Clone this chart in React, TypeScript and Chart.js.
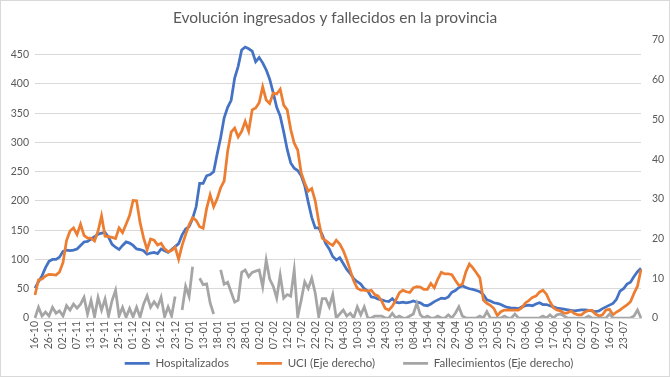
import React, { useEffect, useRef } from "react";
import { Chart, registerables } from "chart.js";

Chart.register(...registerables);

const chartTitle = "Evolución ingresados y fallecidos en la provincia";

const tickLabels = [
  "16-10", "26-10", "02-11", "07-11", "13-11", "19-11", "25-11", "01-12", "09-12", "16-12",
  "23-12", "07-01", "13-01", "18-01", "23-01", "28-01", "02-02", "07-02", "12-02", "17-02",
  "22-02", "27-02", "04-03", "10-03", "16-03", "24-03", "31-03", "08-04", "15-04", "22-04",
  "29-04", "06-05", "13-05", "20-05", "27-05", "03-06", "10-06", "17-06", "25-06", "02-07",
  "09-07", "16-07", "23-07",
];
const pointsPerTick = 4;

const hospitalizados = [
  51, 62, 72, 86, 97, 100, 100, 104, 114, 116,
  115, 116, 118, 124, 130, 131, 135, 139, 143, 145,
  146, 138, 126, 121, 117, 124, 130, 128, 124, 118,
  117, 115, 109, 111, 112, 110, 118, 115, 112, 117,
  122, 127, 142, 152, 156, 170, 190, 230, 230, 243,
  245, 250, 280, 308, 342, 360, 372, 410, 430, 458,
  463, 460, 456, 438, 445, 436, 424, 408, 385, 360,
  345, 318, 288, 265, 256, 252, 243, 226, 198, 172,
  154, 154, 142, 127, 118, 105, 99, 103, 93, 83,
  76, 67, 62, 58, 50, 46, 36, 35, 32, 31,
  29, 28, 33, 27, 26, 27, 26, 27, 29, 27,
  26, 22, 21, 24, 28, 31, 34, 33, 36, 44,
  47, 52, 55, 52, 50, 49, 47, 45, 40, 31,
  29, 26, 25, 23, 20, 18, 17, 17, 16, 19,
  21, 22, 21, 24, 26, 23, 23, 21, 19, 17,
  16, 15, 14, 13, 12, 13, 14, 14, 13, 12,
  11, 12, 16, 19, 22, 25, 32, 46, 50, 58,
  61, 71, 79, 85,
];

const uci = [
  5.8, 9.6, 9.8, 10.6, 11.0, 10.9, 10.8, 11.6, 14.0, 19.5,
  21.9, 22.7, 21.0, 23.6, 20.8, 20.1, 20.1, 19.4, 21.9, 25.7,
  20.6, 20.5, 20.3, 20.0, 22.7, 21.5, 23.6, 25.8, 29.6, 29.5,
  24.0, 20.2, 17.2, 19.9, 19.6, 18.4, 18.8, 17.4, 16.7, 17.0,
  17.8, 14.8, 18.3, 21.0, 23.5, 25.3, 24.6, 23.0, 22.6, 27.6,
  31.0, 28.0, 30.0, 32.8, 34.5, 42.0, 46.8, 47.8, 45.6, 47.0,
  49.5, 47.0, 52.4, 52.9, 54.2, 58.2, 54.9, 54.0, 56.6, 56.4,
  57.6, 53.6, 52.4, 47.5, 44.0, 42.3, 36.5, 34.0, 31.9, 32.6,
  29.5, 24.3, 20.1, 19.5, 18.8, 18.3, 19.6, 18.6, 17.0, 14.7,
  12.0, 9.3, 7.5, 7.0, 7.0, 6.8, 7.0, 5.9, 5.5, 4.2,
  2.4, 2.0, 3.0, 4.5, 6.3, 7.0, 6.6, 6.4, 7.6, 7.9,
  7.8, 7.2, 7.2, 8.7, 7.6, 9.8, 11.5, 11.1, 11.1, 10.9,
  9.5, 8.2, 8.5, 11.6, 13.6, 12.6, 11.4, 10.1, 4.5, 3.7,
  3.2, 2.4, 0.6, 1.6, 2.0, 2.0, 2.0, 2.0, 2.0, 2.6,
  3.8, 4.4, 5.2, 5.5, 6.5, 7.0, 6.0, 4.1, 2.6, 2.0,
  1.8, 1.2, 1.3, 1.8, 1.1, 0.8, 0.8, 1.5, 1.9, 1.9,
  1.0, 0.5, 0.8, 2.0, 2.2, 0.8, 1.5, 2.0, 2.7, 3.3,
  4.1, 6.2, 8.0, 12.2,
];

const fallecimientos = [
  0, 2.7, 0.5, 1.5, 0.5, 2.7, 1.2, 1.8, 0.5, 3.1,
  2.0, 3.5, 2.5, 3.5, 5.2, 1.0, 4.4, 0.3, 5.2, 2.0,
  4.8, 0.5, 4.4, 7.0, 0.5, 2.7, 0.2, 2.4, 0.3, 2.7,
  0.2, 3.5, 5.6, 2.7, 4.1, 2.8, 5.2, 0.3, 2.8, 0.5,
  5.4, null, 2.0, 8.0, 5.4, 12.9, null, 10.0, 8.4, 8.6,
  3.8, 1.0, null, 12.1, 8.5, 9.0, 6.5, 4.0, 4.5, 11.5,
  12.1, 10.4, 11.5, 11.8, 12.1, 7.9, 14.6, 9.8, 8.0, 5.0,
  10.8, 5.0, 5.9, 5.5, 12.1, 0.3, 4.5, 9.1, 7.4, 10.0,
  6.3, 0.3, 4.9, 4.9, 2.8, 5.9, 0, 1.0, 2.0, 0.5,
  1.2, 0, 2.8, 0.8, 2.8, 0, 0, 0.5, 0.5, 0.5,
  0, 0, 1.2, 0, 0.5, 0, 0, 0.5, 1.0, 3.7,
  0.8, 0, 0.5, 0, 0, 0.5, 0, 0, 0.8, 0,
  1.2, 2.8, 0.5, 0, 0, 0, 0, 0.5, 0, 1.6,
  0, 0, 0, 0, 0.5, 0, 0, 1.0, 0, 0,
  0, 0, 0, 0, 0, 0.5, 0, 0.8, 0, 0.8,
  1.0, 0.5, 0, 0, 0, 0, 0, 0, 0.5, 0,
  0, 0, 0, 0, 1.0, 0, 0, 0, 0, 0,
  0, 0.5, 2.0, 0,
];

const categories = hospitalizados.map((_, i) =>
  i % pointsPerTick === 0 ? tickLabels[i / pointsPerTick] ?? "" : ""
);

const FONT = "Lato, 'Open Sans', sans-serif";
const TEXT = "#595959";
const GRID = "#D9D9D9";

// Lets the rotated x labels overhang into the legend band and nudges the legend.
const layoutTweaks = {
  id: "layoutTweaks",
  afterLayout(chart: any) {
    const x = chart.scales.x;
    if (x) x.bottom = x.top + 34;
    const lg = chart.legend;
    if (lg) {
      lg.left += 14;
      lg.right += 14;
      lg.top += 2;
      lg.bottom += 2;
    }
  },
};

export default function App() {
  const canvasRef = useRef<HTMLCanvasElement | null>(null);

  useEffect(() => {
    const canvas = canvasRef.current;
    if (!canvas) return;
    const chart = new Chart(canvas, {
      type: "line",
      data: {
        labels: categories,
        datasets: [
          {
            label: "Hospitalizados",
            data: hospitalizados,
            borderColor: "#4472C4",
            backgroundColor: "#4472C4",
            borderWidth: 2.75,
            pointRadius: 0,
            tension: 0,
            yAxisID: "y",
            order: 3,
          },
          {
            label: "UCI (Eje derecho)",
            data: uci,
            borderColor: "#ED7D31",
            backgroundColor: "#ED7D31",
            borderWidth: 2.75,
            pointRadius: 0,
            tension: 0,
            yAxisID: "y1",
            order: 2,
          },
          {
            label: "Fallecimientos (Eje derecho)",
            data: fallecimientos,
            borderColor: "#A5A5A5",
            backgroundColor: "#A5A5A5",
            borderWidth: 2.75,
            pointRadius: 0,
            tension: 0,
            spanGaps: false,
            yAxisID: "y1",
            order: 1,
          },
        ],
      },
      options: {
        responsive: false,
        animation: false,
        layout: { padding: { left: 0, right: 0, top: 0, bottom: 0 } },
        plugins: {
          title: {
            display: true,
            text: chartTitle,
            color: TEXT,
            font: { family: FONT, size: 15.5, weight: "normal" },
            padding: { top: 9, bottom: 12.4 },
          },
          legend: {
            position: "bottom",
            labels: {
              usePointStyle: true,
              pointStyle: "line",
              pointStyleWidth: 25,
              padding: 28,
              color: TEXT,
              font: { family: FONT, size: 11.5 },
              sort: (a: any, b: any) => a.datasetIndex - b.datasetIndex,
            },
          },
          tooltip: { enabled: false },
        },
        scales: {
          x: {
            type: "category",
            offset: false,
            grid: { display: false, drawTicks: false },
            border: { display: true, color: GRID },
            ticks: {
              autoSkip: false,
              maxRotation: 90,
              minRotation: 90,
              padding: 3,
              color: TEXT,
              font: { family: FONT, size: 10.5 },
              callback: (_v: any, i: number) => categories[i],
            },
            afterFit: (s: any) => {
              s.height = 9.5;
            },
          },
          y: {
            position: "left",
            min: 0,
            max: 475,
            ticks: {
              stepSize: 50,
              includeBounds: false,
              padding: 6,
              color: TEXT,
              font: { family: FONT, size: 10.5 },
            },
            grid: { color: GRID, drawTicks: false },
            border: { display: false },
            afterFit: (s: any) => {
              s.width = 35;
            },
          },
          y1: {
            position: "right",
            min: 0,
            max: 70,
            ticks: {
              stepSize: 10,
              padding: 11,
              color: TEXT,
              font: { family: FONT, size: 10.5 },
            },
            grid: { display: false, drawTicks: false },
            border: { display: false },
            afterFit: (s: any) => {
              s.width = 29;
            },
          },
        },
      } as any,
      plugins: [layoutTweaks],
    });
    return () => chart.destroy();
  }, []);

  return (
    <div style={{ position: "fixed", left: 0, top: 0, width: 670, height: 377, background: "#fff" }}>
      <canvas ref={canvasRef} width={670} height={377} style={{ display: "block" }} />
      <div
        style={{
          position: "absolute",
          left: 0,
          top: 0,
          width: 670,
          height: 377,
          boxSizing: "border-box",
          border: "1px solid #D9D9D9",
          pointerEvents: "none",
        }}
      />
    </div>
  );
}
